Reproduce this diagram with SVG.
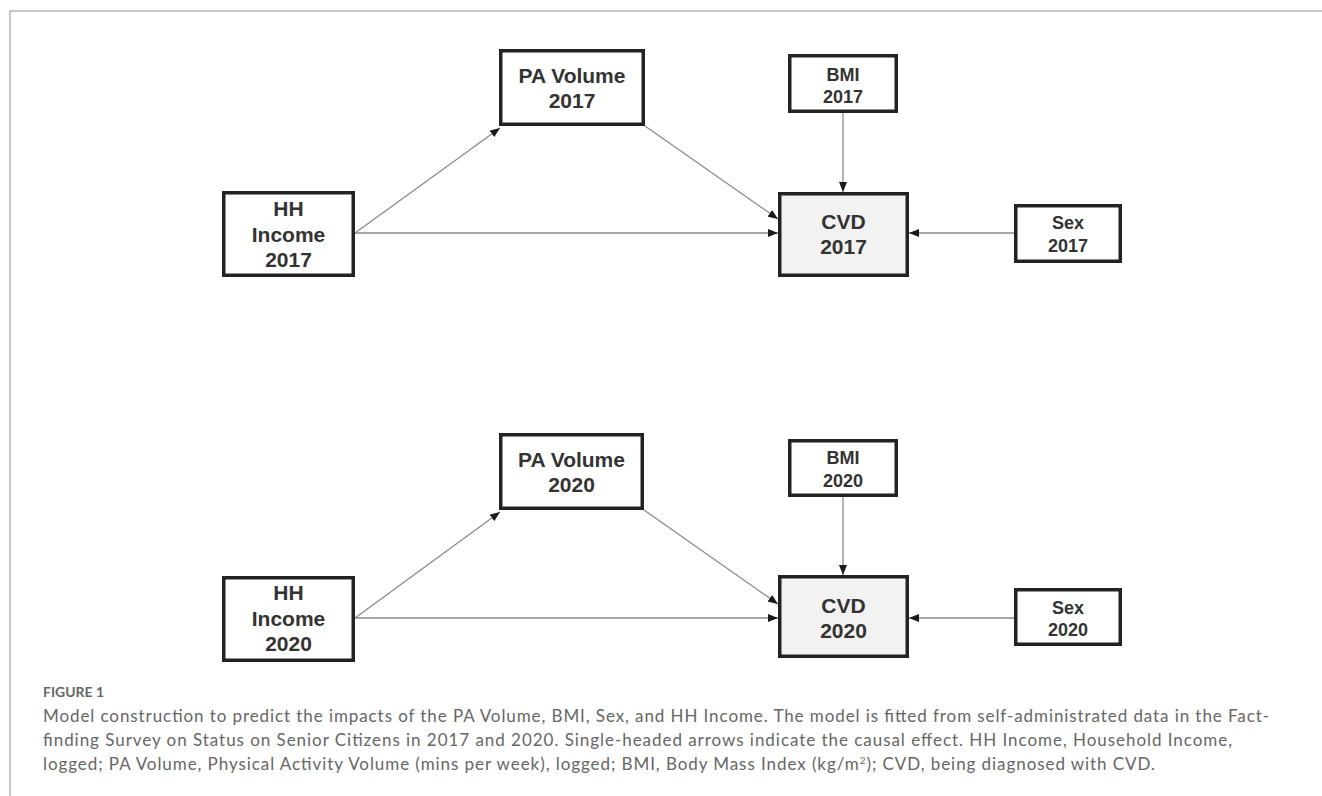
<svg xmlns="http://www.w3.org/2000/svg" width="1322" height="796" viewBox="0 0 1322 796">
<style>
.box{fill:#fff;stroke:#222;stroke-width:3.5}
.out{fill:#f2f2f2;stroke:#222;stroke-width:3.5}
.lbl{font-family:"Liberation Sans",Arial,sans-serif;font-weight:700;fill:#333;text-anchor:middle}
.big{font-size:21px}
.sm{font-size:18px}
.edge{stroke:#8a8a8a;stroke-width:1.3;fill:none;marker-end:url(#arr)}
.cap{font-family:Lato,"Open Sans",sans-serif;font-size:17px;fill:#666}
.frame{stroke:#b5b5b5;stroke-width:1.5;fill:none}
</style>
<defs>
<marker id="arr" markerUnits="userSpaceOnUse" markerWidth="10" markerHeight="8" refX="10" refY="4" orient="auto">
<path d="M0,0 L10,4 L0,8 z" fill="#1a1a1a"/>
</marker>
</defs>
<rect width="1322" height="796" fill="#fff"/>
<path class="frame" d="M10,796 L10,11 L1322,11"/>

<g id="connectors">
<line class="edge" x1="355" y1="233" x2="500" y2="128"/>
<line class="edge" x1="645" y1="126" x2="778" y2="219"/>
<line class="edge" x1="355" y1="233" x2="778" y2="233"/>
<line class="edge" x1="843" y1="113" x2="843" y2="192"/>
<line class="edge" x1="1014" y1="233" x2="909" y2="233"/>
<line class="edge" x1="355" y1="618" x2="500" y2="512"/>
<line class="edge" x1="644" y1="510" x2="778" y2="604"/>
<line class="edge" x1="355" y1="618" x2="778" y2="618"/>
<line class="edge" x1="843" y1="497" x2="843" y2="575"/>
<line class="edge" x1="1014" y1="618" x2="909" y2="618"/>
</g>

<g id="hh2017">
<rect class="box" x="223.75" y="192.75" width="129.5" height="82.5"/>
<text class="lbl big" x="288.5" y="216">HH</text>
<text class="lbl big" x="288.5" y="242">Income</text>
<text class="lbl big" x="288.5" y="267">2017</text>
</g>
<g id="pa2017">
<rect class="box" x="500.75" y="50.75" width="142.5" height="73.5"/>
<text class="lbl big" x="572" y="83">PA Volume</text>
<text class="lbl big" x="572" y="108">2017</text>
</g>
<g id="bmi2017">
<rect class="box" x="789.75" y="55.75" width="106.5" height="55.5"/>
<text class="lbl sm" x="843" y="81">BMI</text>
<text class="lbl sm" x="843" y="103">2017</text>
</g>
<g id="cvd2017">
<rect class="out" x="779.75" y="193.75" width="127.5" height="81.5"/>
<text class="lbl big" x="843.5" y="229">CVD</text>
<text class="lbl big" x="843.5" y="254">2017</text>
</g>
<g id="sex2017">
<rect class="box" x="1015.75" y="205.75" width="104.5" height="55.5"/>
<text class="lbl sm" x="1068" y="229">Sex</text>
<text class="lbl sm" x="1068" y="252">2017</text>
</g>

<g id="hh2020">
<rect class="box" x="223.75" y="577.75" width="129.5" height="82.5"/>
<text class="lbl big" x="288.5" y="600">HH</text>
<text class="lbl big" x="288.5" y="626">Income</text>
<text class="lbl big" x="288.5" y="651">2020</text>
</g>
<g id="pa2020">
<rect class="box" x="500.75" y="434.75" width="141.5" height="73.5"/>
<text class="lbl big" x="571.5" y="467">PA Volume</text>
<text class="lbl big" x="571.5" y="492">2020</text>
</g>
<g id="bmi2020">
<rect class="box" x="789.75" y="440.75" width="106.5" height="54.5"/>
<text class="lbl sm" x="843" y="464">BMI</text>
<text class="lbl sm" x="843" y="487">2020</text>
</g>
<g id="cvd2020">
<rect class="out" x="779.75" y="576.75" width="127.5" height="79.5"/>
<text class="lbl big" x="843.5" y="613">CVD</text>
<text class="lbl big" x="843.5" y="638">2020</text>
</g>
<g id="sex2020">
<rect class="box" x="1015.75" y="589.75" width="104.5" height="54.5"/>
<text class="lbl sm" x="1068" y="614">Sex</text>
<text class="lbl sm" x="1068" y="636">2020</text>
</g>

<g id="caption">
<text x="43" y="697" font-family="Lato,'Open Sans',sans-serif" font-size="13" font-weight="700" fill="#666" textLength="61" lengthAdjust="spacingAndGlyphs">FIGURE 1</text>
<text class="cap" x="43" y="722" textLength="1226" lengthAdjust="spacing">Model construction to predict the impacts of the PA Volume, BMI, Sex, and HH Income. The model is fitted from self-administrated data in the Fact-</text>
<text class="cap" x="43" y="746" textLength="1189" lengthAdjust="spacing">finding Survey on Status on Senior Citizens in 2017 and 2020. Single-headed arrows indicate the causal effect. HH Income, Household Income,</text>
<text class="cap" x="43" y="770" textLength="1112" lengthAdjust="spacing">logged; PA Volume, Physical Activity Volume (mins per week), logged; BMI, Body Mass Index (kg/m<tspan font-size="10" dy="-6">2</tspan><tspan dy="6">); CVD, being diagnosed with CVD.</tspan></text>
</g>
</svg>
